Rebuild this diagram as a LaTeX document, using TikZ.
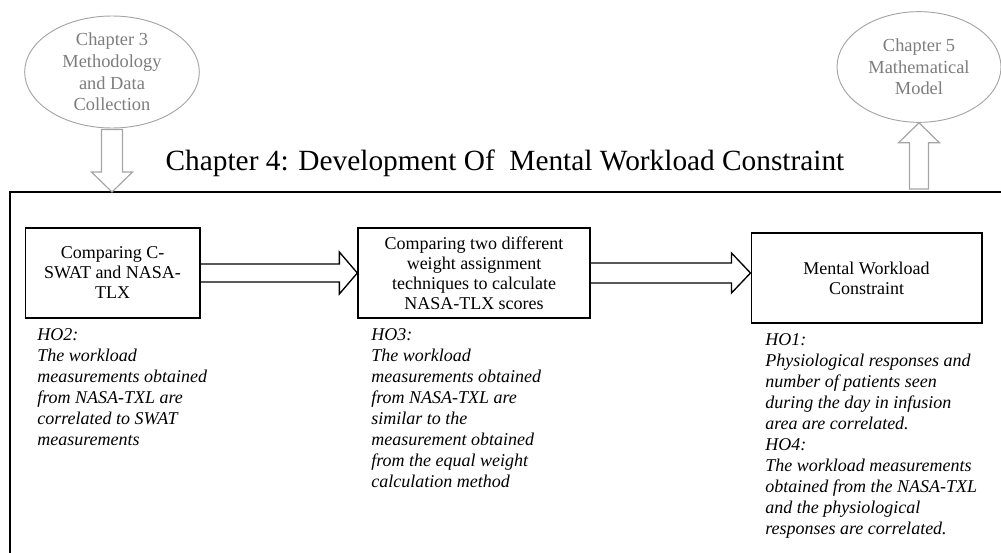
\documentclass[tikz,border=0pt]{standalone}
\usepackage{fontspec}
\setmainfont{Liberation Serif}
\usetikzlibrary{calc,shapes.geometric}
\definecolor{chapgray}{RGB}{165,165,165}
\definecolor{chaptext}{RGB}{125,125,125}

\begin{document}
\begin{tikzpicture}[x=0.75pt,y=-0.75pt,
  stepbox/.style={draw,line width=1pt,align=center,inner sep=2pt,
    font=\fontsize{13.5}{15}\selectfont},
  chapter/.style={draw=chapgray,ellipse,line width=0.7pt,align=center,inner sep=0pt,
    text=chaptext,font=\fontsize{13.8}{16.2}\selectfont},
  hypo/.style={anchor=north west,align=left,inner sep=0pt,
    font=\fontsize{13.5}{15.8}\selectfont\itshape},
  blockarrow/.style={draw,line width=1pt,line join=miter},
  chaparrow/.style={draw=chapgray,line width=0.9pt,line join=miter}]
  \useasboundingbox (0,0) rectangle (1001,553);

  % neighbouring chapters
  \node[chapter,minimum width=131pt,minimum height=84pt] (ch3) at (112,72)
    {Chapter 3\\Methodology\\and Data\\Collection};
  \node[chapter,minimum width=123pt,minimum height=83pt] (ch5) at (919,67)
    {Chapter 5\\Mathematical\\Model};
  %
  \node[font=\fontsize{22}{26}\selectfont] (title) at (505,163)
    {Chapter 4: Development Of\ \ Mental Workload Constraint};
  %%%%%%%%%%%%%%%%%%%%%
  \coordinate (ftl) at (10,192);
  \draw[line width=1pt] (10,553) -- (ftl) -- (1001,192);
  \coordinate (f3) at (ch3.south |- ftl);
  \coordinate (f5) at (ch5.south |- ftl);
  \draw[chaparrow] ($(ch3.south)+(-10.5,1)$) -- ($(f3)+(-10.5,-20)$) -- ($(f3)+(-20.5,-20)$)
    -- (f3) -- ($(f3)+(20.5,-20)$) -- ($(f3)+(10.5,-20)$) -- ($(ch3.south)+(10.5,1)$) -- cycle;
  \draw[chaparrow] ($(f5)+(-9.5,-3)$) -- ($(ch5.south)+(-9.5,20)$) -- ($(ch5.south)+(-20.5,20)$)
    -- (ch5.south) -- ($(ch5.south)+(20.5,20)$) -- ($(ch5.south)+(9.5,20)$) -- ($(f5)+(9.5,-3)$) -- cycle;
  %%%%%%%%%%%%%%%%%%%%%
  \node[stepbox,minimum width=131pt,minimum height=67.5pt] (b1) at (112.5,273)
    {Comparing C-\\SWAT and NASA-\\TLX};
  \node[stepbox,minimum width=174pt,minimum height=67.5pt] (b2) at (474,273)
    {Comparing two different\\weight assignment\\techniques to calculate\\NASA-TLX scores};
  \node[stepbox,minimum width=173pt,minimum height=67.5pt] (b3) at (866.5,278)
    {Mental Workload\\Constraint};
  %
  \draw[blockarrow] ($(b1.east)+(0,-9)$) -- ($(b2.west)+(-18,-9)$) -- ($(b2.west)+(-18,-21)$)
    -- (b2.west) -- ($(b2.west)+(-18,21)$) -- ($(b2.west)+(-18,9)$) -- ($(b1.east)+(0,9)$);
  \coordinate (t2) at (b3.west |- b2.east);
  \draw[blockarrow] ($(b2.east)+(0,-10)$) -- ($(t2)+(-19,-10)$) -- ($(t2)+(-19,-20)$)
    -- (t2) -- ($(t2)+(-19,20)$) -- ($(t2)+(-19,10)$) -- ($(b2.east)+(0,10)$);
  %%%%%%%%%%%%%%%%%%%%%
  \node[hypo] (h2) at (37,328)
    {HO2:\\The workload\\measurements obtained\\from NASA-TXL are\\correlated to SWAT\\measurements};
  \node[hypo] (h3) at (371,328)
    {HO3:\\The workload\\measurements obtained\\from NASA-TXL are\\similar to the\\measurement obtained\\from the equal weight\\calculation method};
  \node[hypo] (h1) at (765,333)
    {HO1:\\Physiological responses and\\number of patients seen\\during the day in infusion\\area are correlated.\\HO4:\\The workload measurements\\obtained from the NASA-TXL\\and the physiological\\responses are correlated.};
\end{tikzpicture}
\end{document}
